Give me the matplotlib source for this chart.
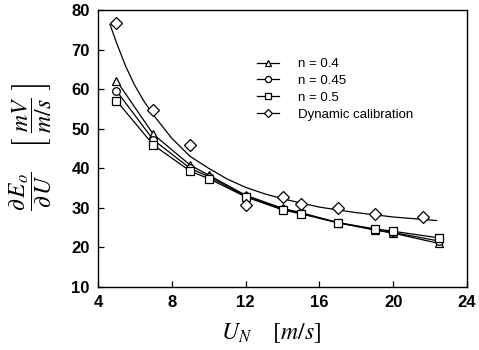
import matplotlib
matplotlib.use("Agg")
import matplotlib.pyplot as plt
from matplotlib.lines import Line2D

# model results for three exponents
x_model = [5, 7, 9, 10, 12, 14, 15, 17, 19, 20, 22.5]
n04 = [62.2, 48.6, 40.8, 38.3, 33.2, 29.9, 28.8, 26.3, 24.4, 23.6, 21.0]
n045 = [59.6, 47.2, 40.0, 37.9, 33.0, 29.7, 28.6, 26.2, 24.5, 23.8, 21.6]
n05 = [57.1, 45.9, 39.3, 37.4, 32.8, 29.5, 28.5, 26.3, 24.7, 24.1, 22.4]

# dynamic calibration points
x_dyn = [5, 7, 9, 12, 14, 15, 17, 19, 21.6]
y_dyn = [76.8, 54.7, 45.9, 30.7, 32.7, 30.9, 29.9, 28.4, 27.6]

# fitted curve through the calibration points
x_fit = [4.65, 5, 5.5, 6, 6.5, 7, 8, 9, 10, 11, 12, 13, 14, 16, 18, 20, 22.35]
y_fit = [76.4, 71.8, 65.8, 60.9, 56.9, 53.5, 47.6, 43.0, 40.0, 37.3, 35.2, 33.6, 32.3,
         30.2, 28.8, 27.7, 26.8]

labels = ['n = 0.4', 'n = 0.45', 'n = 0.5', 'Dynamic calibration']

plt.rcParams['font.family'] = ['Liberation Sans', 'DejaVu Sans']
plt.rcParams['mathtext.fontset'] = 'stix'

fig = plt.figure(figsize=(4.79, 3.5), dpi=100)
ax = fig.add_axes([0.2046, 0.18, 0.7704, 0.791])

mk = dict(color='black', lw=0.9, markerfacecolor='white', markeredgecolor='black',
          markeredgewidth=0.9, markersize=5.5)
ax.plot(x_model, n04, marker='^', **mk)
ax.plot(x_model, n045, marker='o', **mk)
ax.plot(x_model, n05, marker='s', **mk)
ax.plot(x_fit, y_fit, color='black', lw=0.9)
ax.plot(x_dyn, y_dyn, linestyle='none', marker='D', markersize=6.5,
        markerfacecolor='white', markeredgecolor='black', markeredgewidth=0.9)

handles = [
    Line2D([], [], marker='^', **mk),
    Line2D([], [], marker='o', **mk),
    Line2D([], [], marker='s', **mk),
    Line2D([], [], marker='D', color='black', lw=0.9, markersize=5,
           markerfacecolor='white', markeredgecolor='black', markeredgewidth=0.9),
]
ax.legend(handles, labels, loc='upper left', bbox_to_anchor=(0.40, 0.87),
          frameon=False, handlelength=1.6, labelspacing=0.35, fontsize=9.5,
          handletextpad=1.5, markerscale=0.8)

ax.set_xlim(4, 24)
ax.set_ylim(10, 80)
ax.set_xticks([4, 8, 12, 16, 20, 24])
ax.set_yticks(range(10, 90, 10))
ax.tick_params(direction='in', length=4, width=0.9, labelsize=12, pad=6)
for lab in ax.get_xticklabels() + ax.get_yticklabels():
    lab.set_fontweight('bold')
for s in ax.spines.values():
    s.set_linewidth(1.0)

ax.set_xlabel(r'$U_N\ \ \ \ [m/s]$', fontsize=17, labelpad=8, x=0.47)
fig.text(0.065, 0.58, r'$\dfrac{\partial\, E_o}{\partial\, U}\ \ \ \ \left[\ \dfrac{mV}{m/s}\ \right]$',
         rotation=90, fontsize=17, ha='center', va='center')

fig.savefig('out.png', dpi=100)
